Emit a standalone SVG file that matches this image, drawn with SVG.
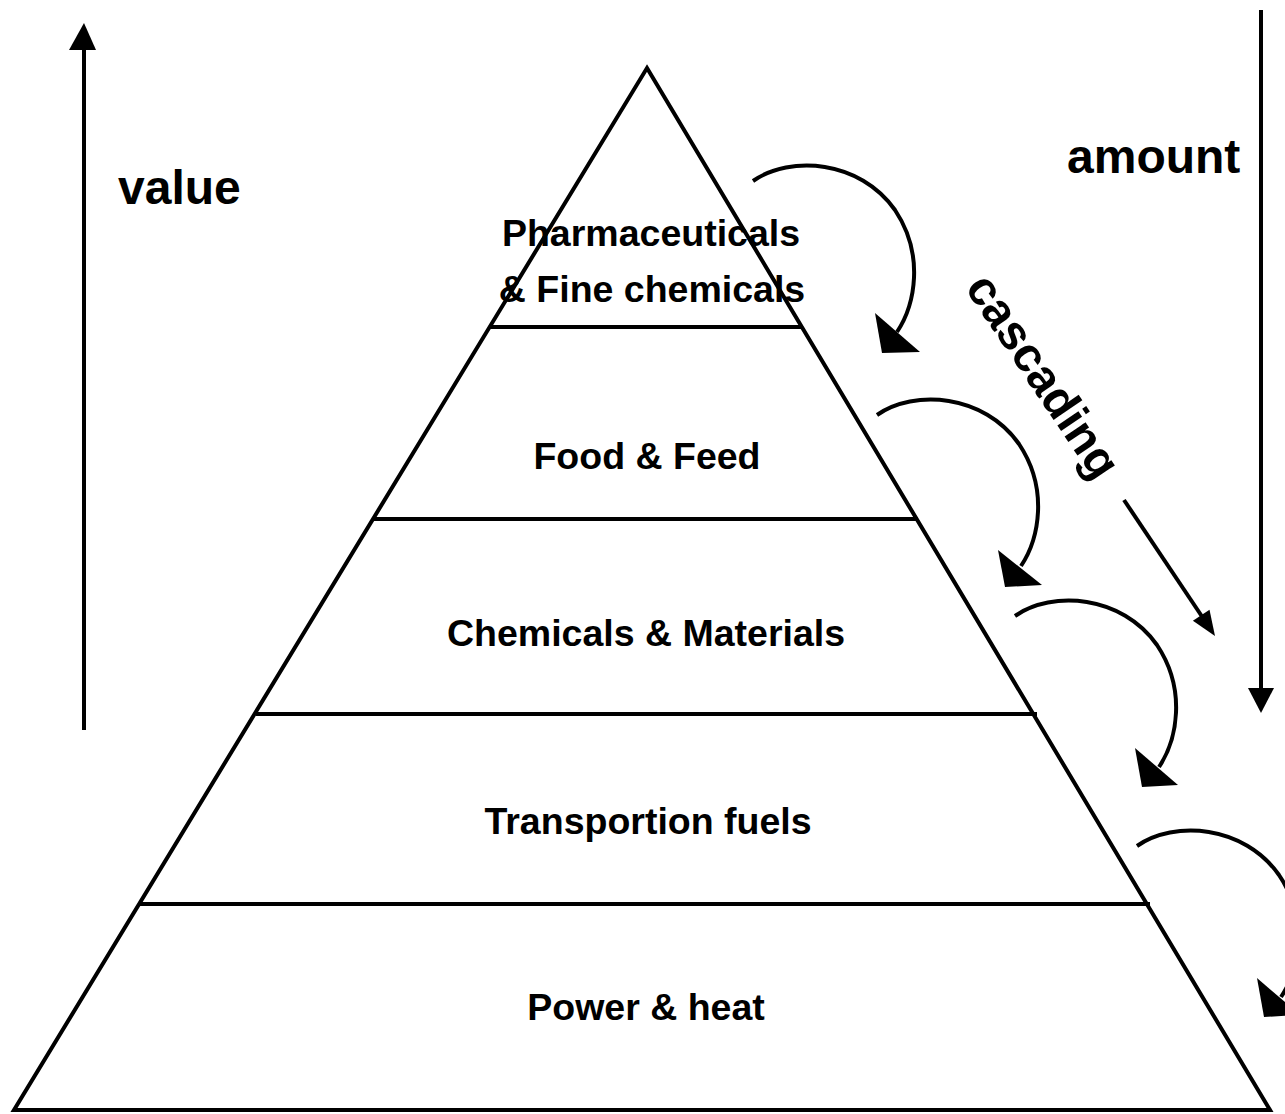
<svg xmlns="http://www.w3.org/2000/svg" width="1285" height="1114" viewBox="0 0 1285 1114">
  <style>
    .edge { fill: none; stroke: #000; stroke-width: 4; stroke-linecap: butt; }
    .band { fill: none; stroke: #000; stroke-width: 4; }
    .head { fill: #000; stroke: none; }
    .lbl { font-family: "Liberation Sans", Arial, sans-serif; font-weight: bold; font-size: 37.5px; fill: #000; text-anchor: middle; }
    .big { font-family: "Liberation Sans", Arial, sans-serif; font-weight: bold; font-size: 48px; fill: #000; }
  </style>
  <rect width="1285" height="1114" fill="#fff"/>

  <g id="pyramid">
    <polygon class="band" points="647,68 1270,1110 14,1110" stroke-width="4.5"/>
  </g>

  <g id="node-pharma">
    <text class="lbl" x="651" y="246">Pharmaceuticals</text>
    <text class="lbl" x="652" y="302">&amp; Fine chemicals</text>
    <line class="band" x1="490" y1="327" x2="803" y2="327"/>
  </g>
  <g id="node-food">
    <text class="lbl" x="647" y="469">Food &amp; Feed</text>
    <line class="band" x1="374" y1="519" x2="918" y2="519"/>
  </g>
  <g id="node-chem">
    <text class="lbl" x="646" y="646">Chemicals &amp; Materials</text>
    <line class="band" x1="256" y1="714" x2="1037" y2="714"/>
  </g>
  <g id="node-fuels">
    <text class="lbl" x="648" y="834">Transportion fuels</text>
    <line class="band" x1="139" y1="904" x2="1150" y2="904"/>
  </g>
  <g id="node-power">
    <text class="lbl" x="646" y="1020">Power &amp; heat</text>
  </g>

  <g id="label-value">
    <text class="big" x="118" y="204">value</text>
  </g>
  <g id="label-amount">
    <text class="big" x="1067" y="173">amount</text>
  </g>
  <g id="label-cascading">
    <text class="big" text-anchor="middle" font-weight="normal" font-size="49" transform="translate(1030,385) rotate(56)">cascading</text>
  </g>

  <g id="connectors">
    <!-- value arrow -->
    <line class="edge" x1="84" y1="730" x2="84" y2="48"/>
    <polygon class="head" points="84,23 69,50 96,50"/>
    <!-- amount arrow -->
    <line class="edge" stroke-width="5" x1="1261" y1="10" x2="1261" y2="690"/>
    <polygon class="head" points="1248,688 1274,688 1261,713"/>
    <!-- cascading arrow -->
    <line class="edge" x1="1124" y1="500" x2="1203" y2="618"/>
    <polygon class="head" points="1215,636 1209.5,609.7 1192.9,620.7"/>
    <!-- curved arrows -->
    <path class="edge" d="M753,181 C790,155 860,160 895,210 C925,255 915,305 897,332"/>
    <polygon class="head" points="875,313 920,352 882,353"/>
    <path class="edge" d="M877,415 C914,389 984,394 1019,444 C1049,489 1039,539 1021,566"/>
    <polygon class="head" points="998,550 1042,585 1005,587"/>
    <path class="edge" d="M1015,616 C1052,590 1122,595 1157,645 C1187,690 1177,740 1159,767"/>
    <polygon class="head" points="1135,748 1178,785 1142,787"/>
    <path class="edge" d="M1137,846 C1174,820 1244,825 1279,875 C1309,920 1299,970 1281,997"/>
    <polygon class="head" points="1257,978 1300,1015 1264,1017"/>
  </g>
</svg>
